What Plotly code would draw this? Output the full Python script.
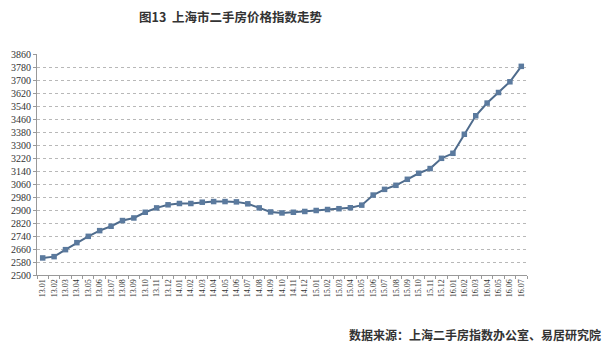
import plotly.graph_objects as go

months = ["13.01","13.02","13.03","13.04","13.05","13.06","13.07","13.08","13.09","13.10","13.11","13.12",
          "14.01","14.02","14.03","14.04","14.05","14.06","14.07","14.08","14.09","14.10","14.11","14.12",
          "15.01","15.02","15.03","15.04","15.05","15.06","15.07","15.08","15.09","15.10","15.11","15.12",
          "16.01","16.02","16.03","16.04","16.05","16.06","16.07"]
index_values = [2605, 2613, 2656, 2699, 2738, 2773, 2800, 2835, 2851, 2886, 2913, 2932,
                2940, 2940, 2948, 2952, 2952, 2950, 2938, 2913, 2888, 2882, 2886, 2891,
                2897, 2903, 2908, 2914, 2930, 2992, 3027, 3052, 3089, 3126, 3155, 3218,
                3249, 3366, 3480, 3558, 3623, 3689, 3784]
y_ticks = list(range(2500, 3861, 80))

title_text = "图13\u00a0\u00a0上海市二手房价格指数走势"
source_text = "数据来源：上海二手房指数办公室、易居研究院"

L, R, T, B = 37, 80, 54, 76
W, H = 607, 351
plot_w = W - L - R
plot_h = H - T - B

def px_x(x):
    return (x - L) / plot_w

def px_y(y):
    return ((H - B) - y) / plot_h

fig = go.Figure()
fig.add_trace(go.Scatter(
    x=months, y=index_values, mode="lines+markers",
    line=dict(color="#4E6B8C", width=2),
    marker=dict(symbol="square", size=5.5, color="#5B7A9E", line=dict(width=0)),
    showlegend=False,
))

fig.update_layout(
    width=W, height=H,
    margin=dict(l=L, r=R, t=T, b=B),
    paper_bgcolor="white", plot_bgcolor="white",
    xaxis=dict(
        type="category", range=[-0.5, len(months) - 0.5],
        tickangle=-90, tickson="boundaries",
        ticks="outside", ticklen=3, tickcolor="#999",
        showline=True, linecolor="#999", linewidth=1,
        showgrid=False,
        tickfont=dict(family="Liberation Serif", size=8, color="#333"),
    ),
    yaxis=dict(
        range=[2500, 3860], tickvals=y_ticks,
        ticks="outside", ticklen=3, tickcolor="#999",
        showline=True, linecolor="#999", linewidth=1,
        showgrid=True, gridcolor="#b8b8b8", griddash="dot", gridwidth=1,
        zeroline=False,
        tickfont=dict(family="Liberation Serif", size=10, color="#333"),
    ),
    annotations=[
        dict(text="<b>" + title_text + "</b>", x=px_x(230), y=px_y(17),
             xref="paper", yref="paper", xanchor="center", yanchor="middle",
             showarrow=False, font=dict(family="Noto Sans CJK SC", size=12.5, color="#333")),
        dict(text="<b>" + source_text + "</b>", x=px_x(603), y=px_y(334),
             xref="paper", yref="paper", xanchor="right", yanchor="middle",
             showarrow=False, font=dict(family="Noto Sans CJK SC", size=12, color="#333")),
    ],
)

fig.write_html("out.html")
